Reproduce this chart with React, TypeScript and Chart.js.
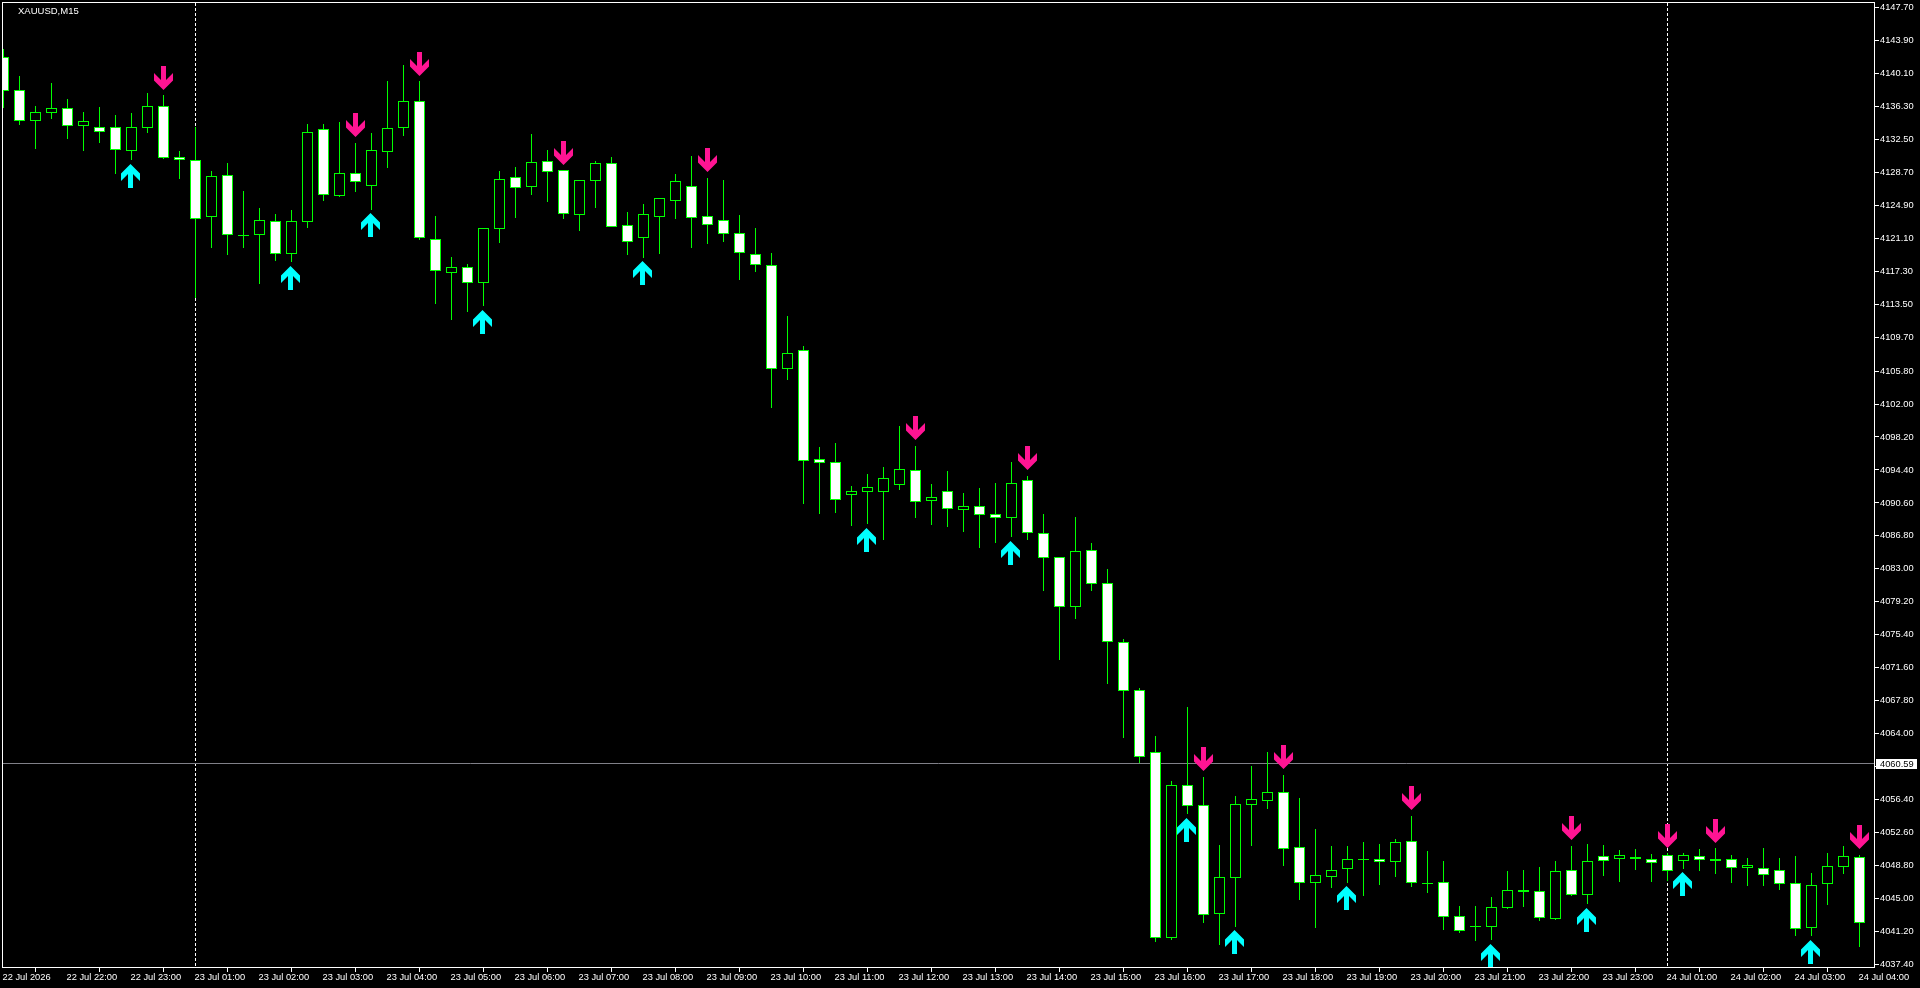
import React, { useEffect, useRef } from "react";
import { Chart, registerables } from "chart.js";

Chart.register(...registerables);

const symbolTitle = "XAUUSD,M15";

const opens = [
  4141.96, 4138.15, 4134.66, 4135.58, 4136.08, 4134.08, 4133.89, 4133.89, 4131.2, 4133.85,
  4136.31, 4130.43, 4130.09, 4123.59, 4128.36, 4121.44, 4121.52, 4123.05, 4119.33, 4123.02,
  4133.66, 4126.01, 4128.59, 4127.17, 4131.08, 4133.85, 4136.89, 4120.98, 4117.14, 4117.75,
  4115.99, 4122.21, 4128.13, 4127.05, 4129.97, 4128.93, 4123.82, 4127.74, 4129.74, 4122.59,
  4121.17, 4123.59, 4125.44, 4127.09, 4123.63, 4123.17, 4121.67, 4119.25, 4117.98, 4106.07,
  4108.19, 4095.62, 4095.28, 4091.55, 4091.9, 4091.9, 4092.7, 4094.36, 4090.86, 4091.94,
  4089.82, 4090.21, 4089.29, 4088.9, 4093.2, 4087.1, 4084.33, 4078.64, 4085.14, 4081.33,
  4074.53, 4069.0, 4061.85, 4040.49, 4058.05, 4055.75, 4043.26, 4047.41, 4055.82, 4056.28,
  4057.24, 4050.9, 4046.83, 4047.52, 4048.45, 4049.52, 4049.52, 4049.25, 4051.6, 4046.76,
  4046.87, 4042.95, 4041.8, 4041.76, 4043.95, 4045.76, 4045.83, 4042.68, 4048.25, 4045.45,
  4049.87, 4049.52, 4049.56, 4049.6, 4049.98, 4049.29, 4049.94, 4049.37, 4049.52, 4048.49,
  4048.49, 4048.25, 4046.76, 4041.65, 4046.72, 4048.68, 4049.75,
];

const closes = [
  4138.11, 4134.66, 4135.62, 4136.08, 4134.08, 4134.58, 4133.39, 4131.31, 4133.89, 4136.31,
  4130.39, 4130.16, 4123.36, 4128.24, 4121.52, 4121.44, 4123.17, 4119.33, 4123.05, 4133.31,
  4126.13, 4128.59, 4127.63, 4131.24, 4133.77, 4136.89, 4121.17, 4117.37, 4117.75, 4115.99,
  4122.25, 4127.9, 4126.94, 4129.86, 4128.78, 4123.94, 4127.78, 4129.74, 4122.44, 4120.71,
  4123.86, 4125.71, 4127.67, 4123.48, 4122.67, 4121.63, 4119.44, 4118.06, 4106.07, 4107.84,
  4095.47, 4095.24, 4090.97, 4091.94, 4092.4, 4093.43, 4094.47, 4090.74, 4091.24, 4089.94,
  4090.21, 4089.25, 4088.9, 4092.86, 4087.17, 4084.29, 4078.64, 4085.02, 4081.29, 4074.61,
  4068.96, 4061.36, 4040.49, 4058.05, 4055.71, 4043.14, 4047.45, 4055.86, 4056.44, 4057.24,
  4050.75, 4046.83, 4047.68, 4048.25, 4049.52, 4049.52, 4049.25, 4051.48, 4046.83, 4046.76,
  4042.91, 4041.3, 4041.8, 4043.99, 4045.95, 4045.99, 4042.8, 4048.14, 4045.45, 4049.29,
  4049.29, 4049.98, 4049.79, 4049.14, 4048.22, 4049.98, 4049.41, 4049.56, 4048.49, 4048.83,
  4047.76, 4046.72, 4041.53, 4046.53, 4048.72, 4049.87, 4042.22,
];

const highs = [
  4142.88, 4139.8, 4136.35, 4139.0, 4137.15, 4135.66, 4136.23, 4135.31, 4135.54, 4137.85,
  4137.62, 4131.16, 4133.93, 4128.86, 4129.78, 4126.55, 4124.59, 4123.9, 4124.36, 4134.27,
  4134.27, 4134.5, 4132.08, 4133.24, 4139.23, 4141.07, 4139.23, 4123.67, 4118.94, 4118.14,
  4122.25, 4128.86, 4129.32, 4133.12, 4131.28, 4128.93, 4127.78, 4130.01, 4130.47, 4124.13,
  4125.05, 4125.71, 4128.51, 4130.58, 4128.05, 4127.82, 4123.79, 4122.29, 4119.4, 4112.14,
  4108.69, 4097.05, 4097.51, 4092.55, 4093.93, 4094.74, 4099.47, 4097.16, 4092.78, 4094.28,
  4091.74, 4092.32, 4092.9, 4095.32, 4093.7, 4089.32, 4084.33, 4088.98, 4085.98, 4082.98,
  4074.88, 4069.27, 4063.74, 4058.55, 4067.08, 4059.01, 4051.17, 4056.82, 4060.28, 4061.89,
  4059.24, 4056.59, 4053.02, 4051.06, 4051.06, 4051.52, 4051.29, 4051.87, 4054.52, 4050.48,
  4049.33, 4044.14, 4044.14, 4045.18, 4048.18, 4048.29, 4048.64, 4049.33, 4051.06, 4051.29,
  4051.17, 4050.6, 4050.71, 4050.14, 4050.21, 4050.25, 4050.71, 4050.83, 4050.02, 4049.68,
  4050.83, 4049.68, 4049.91, 4047.95, 4050.25, 4051.06, 4050.02,
];

const lows = [
  4136.15, 4134.16, 4131.39, 4134.85, 4132.54, 4131.16, 4132.08, 4128.51, 4130.12, 4133.24,
  4130.24, 4127.93, 4114.18, 4119.98, 4119.17, 4119.98, 4115.83, 4118.48, 4118.37, 4122.29,
  4125.4, 4125.86, 4126.44, 4124.36, 4129.24, 4132.89, 4120.9, 4113.53, 4111.68, 4112.6,
  4113.3, 4120.56, 4123.44, 4126.09, 4125.28, 4123.32, 4121.94, 4124.59, 4122.44, 4119.17,
  4118.83, 4119.29, 4123.32, 4119.98, 4120.44, 4120.67, 4116.29, 4117.22, 4101.54, 4104.77,
  4090.48, 4089.32, 4089.44, 4087.94, 4088.17, 4086.33, 4092.09, 4088.86, 4088.06, 4087.83,
  4087.25, 4085.4, 4085.98, 4086.67, 4086.33, 4080.45, 4072.5, 4077.22, 4080.45, 4069.73,
  4063.51, 4060.59, 4039.99, 4040.22, 4054.75, 4042.18, 4039.65, 4041.72, 4051.06, 4055.32,
  4048.75, 4044.83, 4041.61, 4046.22, 4046.79, 4045.3, 4046.56, 4047.49, 4046.33, 4045.64,
  4041.38, 4041.03, 4040.11, 4040.22, 4043.8, 4044.03, 4042.41, 4042.53, 4045.3, 4044.34,
  4047.6, 4046.91, 4048.29, 4046.91, 4047.03, 4048.41, 4048.18, 4047.83, 4046.79, 4046.45,
  4046.45, 4045.99, 4040.69, 4040.69, 4044.26, 4047.83, 4039.42,
];

const downArrowBars = [10, 22, 26, 35, 44, 57, 64, 75, 80, 88, 98, 104, 107, 116];
const downArrowPrices = [
  4139.6, 4134.15, 4141.2, 4130.93, 4130.13, 4099.24, 4095.78, 4061.09, 4061.32, 4056.6, 4053.14, 4052.21,
  4052.79, 4052.1,
];
const upArrowBars = [8, 18, 23, 30, 40, 54, 63, 74, 77, 84, 93, 99, 105, 113];
const upArrowPrices = [
  4128.28, 4116.53, 4122.64, 4111.46, 4117.1, 4086.33, 4084.83, 4052.91, 4040.0, 4045.07, 4038.39, 4042.54,
  4046.68, 4038.85,
];

const priceTickLabels = [
  "4147.70", "4143.90", "4140.10", "4136.30", "4132.50", "4128.70", "4124.90", "4121.10", "4117.30", "4113.50",
  "4109.70", "4105.80", "4102.00", "4098.20", "4094.40", "4090.60", "4086.80", "4083.00", "4079.20", "4075.40",
  "4071.60", "4067.80", "4064.00", "4060.20", "4056.40", "4052.60", "4048.80", "4045.00", "4041.20", "4037.40",
];

const timeTickLabels = [
  "22 Jul 2026", "22 Jul 22:00", "22 Jul 23:00", "23 Jul 01:00", "23 Jul 02:00", "23 Jul 03:00",
  "23 Jul 04:00", "23 Jul 05:00", "23 Jul 06:00", "23 Jul 07:00", "23 Jul 08:00", "23 Jul 09:00",
  "23 Jul 10:00", "23 Jul 11:00", "23 Jul 12:00", "23 Jul 13:00", "23 Jul 14:00", "23 Jul 15:00",
  "23 Jul 16:00", "23 Jul 17:00", "23 Jul 18:00", "23 Jul 19:00", "23 Jul 20:00", "23 Jul 21:00",
  "23 Jul 22:00", "23 Jul 23:00", "24 Jul 01:00", "24 Jul 02:00", "24 Jul 03:00", "24 Jul 04:00",
];
const barsPerTimeTick = 4;

const daySeparatorBars = [12, 104];
const currentPrice = 4060.59;
const currentPriceLabel = "4060.59";

const GREEN = "#00FF00";
const WHITE = "#FFFFFF";
const PINK = "#FF1493";
const CYAN = "#00FFFF";
const PRICE_LINE = "#808088";
const FONT = "'Liberation Sans', Arial, sans-serif";
const TICK_SIZE = 9.3;

function makeArrow(color: string, down: boolean, canvasWidth: number) {
  const c = document.createElement("canvas");
  c.width = canvasWidth;
  c.height = 24;
  const g = c.getContext("2d")!;
  const pts: [number, number][] = [
    [7, 0], [12, 0], [12, 14], [19, 7], [19, 14.5], [9.5, 24], [0, 14.5], [0, 7], [7, 14],
  ];
  g.fillStyle = color;
  g.beginPath();
  pts.forEach(([x, y], i) => {
    const py = down ? y : 24 - y;
    if (i === 0) g.moveTo(x, py);
    else g.lineTo(x, py);
  });
  g.closePath();
  g.fill();
  return c;
}

const mtPlugin = {
  id: "mtPlugin",
  afterDatasetsUpdate(chart: any) {
    chart.data.datasets.forEach((ds: any, idx: number) => {
      if (ds.type !== "bar") return;
      chart.getDatasetMeta(idx).data.forEach((el: any) => {
        el.y = Math.round(el.y);
        el.base = Math.round(el.base);
        if (el.y === el.base) el.base = el.y + 1;
      });
    });
  },
  beforeDatasetsDraw(chart: any) {
    const { ctx, chartArea: a, scales } = chart;
    ctx.save();
    ctx.strokeStyle = WHITE;
    ctx.lineWidth = 1;
    ctx.setLineDash([3, 2]);
    daySeparatorBars.forEach((b) => {
      const x = Math.floor(scales.x.getPixelForValue(b)) + 0.5;
      ctx.beginPath();
      ctx.moveTo(x, a.top + 1);
      ctx.lineTo(x, a.bottom);
      ctx.stroke();
    });
    ctx.setLineDash([]);
    const yp = Math.floor(scales.y.getPixelForValue(currentPrice)) + 0.5;
    ctx.strokeStyle = PRICE_LINE;
    ctx.beginPath();
    ctx.moveTo(a.left, yp);
    ctx.lineTo(a.right, yp);
    ctx.stroke();
    ctx.restore();
    ctx.imageSmoothingEnabled = false;
  },
  afterDraw(chart: any) {
    const { ctx, scales } = chart;
    ctx.save();
    ctx.strokeStyle = WHITE;
    ctx.lineWidth = 1;
    ctx.strokeRect(2.5, 2.5, 1872, 965);
    ctx.font = `9.5px ${FONT}`;
    ctx.fillStyle = WHITE;
    ctx.textBaseline = "middle";
    ctx.textAlign = "left";
    ctx.fillText(symbolTitle, 18, 11);
    const yp = Math.floor(scales.y.getPixelForValue(currentPrice));
    ctx.fillStyle = WHITE;
    ctx.fillRect(1876, yp - 4, 41, 10);
    ctx.fillStyle = "#000000";
    ctx.font = `${TICK_SIZE}px ${FONT}`;
    ctx.fillText(currentPriceLabel, 1880, yp + 1);
    ctx.restore();
  },
};

export default function App() {
  const ref = useRef<HTMLCanvasElement>(null);

  useEffect(() => {
    document.body.style.margin = "0";
    document.body.style.background = "#000";
    const canvas = ref.current!;
    const bars = opens.map((_, i) => i);
    const chart = new Chart(canvas, {
      type: "bar",
      data: {
        datasets: [
          {
            type: "scatter",
            order: 0,
            data: downArrowBars.map((b, i) => ({ x: b, y: downArrowPrices[i] })),
            pointStyle: makeArrow(PINK, true, 19),
            pointRadius: 10,
            showLine: false,
            clip: false,
          },
          {
            type: "scatter",
            order: 0,
            data: upArrowBars.map((b, i) => ({ x: b, y: upArrowPrices[i] })),
            pointStyle: makeArrow(CYAN, false, 21),
            pointRadius: 10,
            showLine: false,
            clip: false,
          },
          {
            type: "bar",
            order: 1,
            data: bars.map((i) => ({ x: i, y: [opens[i], closes[i]] })),
            backgroundColor: bars.map((i) => (closes[i] < opens[i] ? WHITE : "#000000")),
            borderColor: GREEN,
            borderWidth: 1,
            borderSkipped: false,
            inflateAmount: 0,
            barThickness: 11,
            grouped: false,
          },
          {
            type: "bar",
            order: 2,
            data: bars.map((i) => ({ x: i, y: [lows[i], highs[i]] })),
            backgroundColor: GREEN,
            borderWidth: 0,
            inflateAmount: 0,
            barThickness: 1,
            grouped: false,
          },
        ] as any,
      },
      options: {
        animation: false,
        responsive: false,
        devicePixelRatio: 1,
        layout: { autoPadding: false, padding: { left: 2, top: 2, right: 0, bottom: 0 } },
        plugins: { legend: { display: false }, tooltip: { enabled: false }, title: { display: false } },
        events: [],
        scales: {
          x: {
            type: "linear",
            offset: false,
            min: -0.09375,
            max: 116.96875,
            grid: { display: true, drawOnChartArea: false, drawTicks: true, tickLength: 4, color: WHITE },
            border: { display: false },
            afterBuildTicks: (s: any) => {
              s.ticks = timeTickLabels.map((_, i) => ({ value: i * barsPerTimeTick }));
            },
            afterFit: (s: any) => {
              s.height = 20;
              s.paddingLeft = 0;
              s.paddingRight = 0;
            },
            ticks: {
              autoSkip: false,
              maxRotation: 0,
              minRotation: 0,
              align: "start",
              labelOffset: -1,
              padding: 0,
              color: WHITE,
              font: { family: FONT, size: TICK_SIZE },
              callback: (_v: any, i: number) => timeTickLabels[i],
            },
          },
          y: {
            type: "linear",
            position: "right",
            min: 4037.0,
            max: 4148.334,
            grid: { display: true, drawOnChartArea: false, drawTicks: true, tickLength: 4, color: WHITE },
            border: { display: false },
            afterBuildTicks: (s: any) => {
              s.ticks = priceTickLabels.map((t) => ({ value: parseFloat(t) }));
            },
            afterFit: (s: any) => {
              s.width = 45;
              s.paddingTop = 0;
              s.paddingBottom = 0;
            },
            ticks: {
              autoSkip: false,
              padding: 1,
              color: WHITE,
              font: { family: FONT, size: TICK_SIZE },
              callback: (_v: any, i: number) => priceTickLabels[i],
            },
          },
        },
      },
      plugins: [mtPlugin],
    } as any);
    return () => chart.destroy();
  }, []);

  return (
    <div style={{ width: 1920, height: 988, background: "#000", overflow: "hidden" }}>
      <canvas ref={ref} width={1920} height={988} style={{ display: "block", width: 1920, height: 988 }} />
    </div>
  );
}
